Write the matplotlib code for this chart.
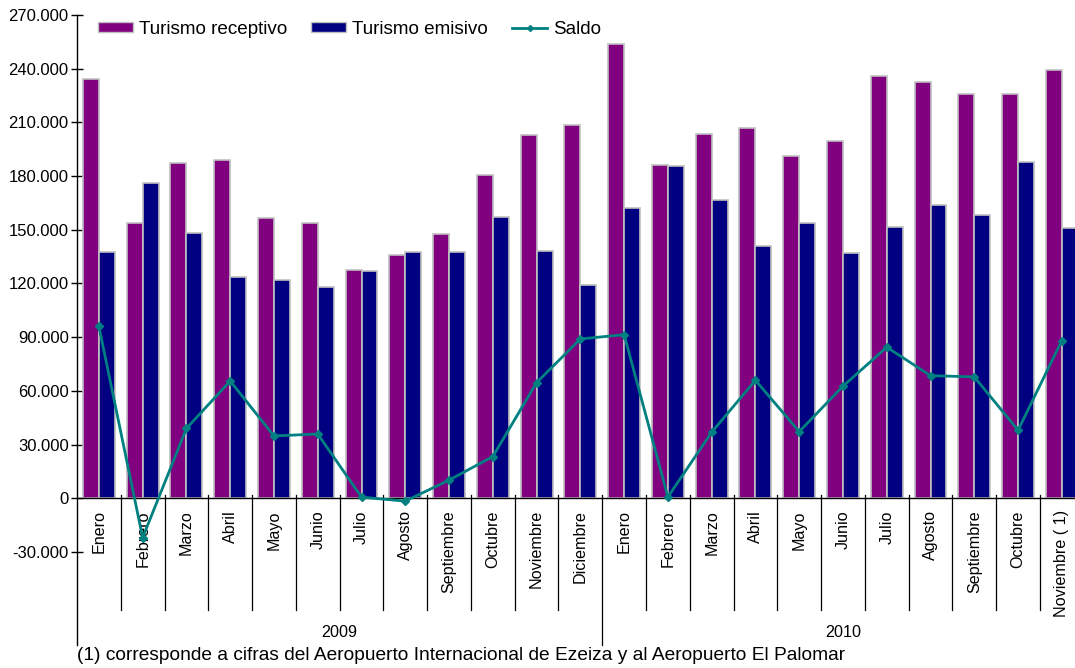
import matplotlib
matplotlib.use('Agg')
import matplotlib.pyplot as plt
from matplotlib.lines import Line2D
from matplotlib.patches import Patch

plt.rcParams['font.family'] = ['Liberation Sans', 'DejaVu Sans']

months = ["Enero", "Febrero", "Marzo", "Abril", "Mayo", "Junio", "Julio", "Agosto",
          "Septiembre", "Octubre", "Noviembre", "Diciembre",
          "Enero", "Febrero", "Marzo", "Abril", "Mayo", "Junio", "Julio", "Agosto",
          "Septiembre", "Octubre", "Noviembre ( 1)"]
years = ["2009", "2010"]
months_per_year = [12, 11]

receptivo = [234300, 153800, 187300, 189000, 156600, 153800, 127400, 135800,
             147500, 180500, 202800, 208400,
             253600, 186200, 203400, 206700, 191200, 199500, 235800, 232600,
             225900, 225900, 239300]
emisivo = [137600, 176000, 148400, 123500, 121800, 117900, 126800, 137400,
           137400, 157200, 138200, 119400,
           162200, 185500, 166500, 140800, 154000, 136900, 151400, 164100,
           158100, 187900, 151200]
saldo = [96000, -22000, 39000, 65500, 34800, 35900, 600, -1600,
         10100, 23300, 64600, 89000,
         91400, 700, 36900, 65900, 37200, 62600, 84400, 68500,
         67800, 38000, 88100]

yticks = list(range(-30000, 270001, 30000))
footnote = "(1) corresponde a cifras del Aeropuerto Internacional de Ezeiza y al Aeropuerto El Palomar"

W, H = 1075, 668
fig = plt.figure(figsize=(W / 100, H / 100), dpi=100)
cat_w = 43.77
n = len(months)
ax = fig.add_axes([77 / W, 1 - 645 / H, n * cat_w / W, (645 - 15) / H])

ymin, ymax = -82000, 270000
ax.set_xlim(-0.5, n - 0.5)
ax.set_ylim(ymin, ymax)

x = list(range(n))
bw = 0.365
c_rec, c_emi, c_sal = '#800080', '#000080', '#008080'
ax.bar([i - bw / 2 for i in x], receptivo, width=bw, color=c_rec,
       edgecolor='#c0c0c0', linewidth=1.2, zorder=2)
ax.bar([i + bw / 2 for i in x], emisivo, width=bw, color=c_emi,
       edgecolor='#c0c0c0', linewidth=1.2, zorder=2)
ax.plot(x, saldo, color=c_sal, linewidth=2.0, marker='D', markersize=4,
        zorder=4, clip_on=False)

# zero line
ax.axhline(0, color='black', linewidth=1.0, zorder=3)

# spines
for s in ['top', 'right', 'bottom']:
    ax.spines[s].set_visible(False)
ax.spines['left'].set_linewidth(1.0)

ax.set_yticks(yticks)
ax.set_yticklabels([f"{v:,.0f}".replace(',', '.') for v in yticks], fontsize=12)
ax.tick_params(axis='y', direction='inout', length=8, width=1.0, pad=2)
ax.set_xticks([])

px = (ymax - ymin) / 630.0
# category separators
for k in range(1, n):
    if k == months_per_year[0]:
        continue
    ax.plot([k - 0.5, k - 0.5], [3 * px, -(610 - 498) * px], color='black',
            linewidth=0.9, clip_on=False, zorder=3)
# year separator
ax.plot([months_per_year[0] - 0.5] * 2, [3 * px, ymin], color='black',
        linewidth=0.9, clip_on=False, zorder=3)

# month labels
for i, m in enumerate(months):
    ax.text(i, -(510 - 498) * px, m, rotation=90, ha='center', va='top',
            fontsize=11.6)

# year labels
start = 0
for y, cnt in zip(years, months_per_year):
    if y == years[-1]:
        centre = start - 0.5 + (n - start) / 2
    else:
        centre = start - 0.5 + cnt / 2
    ax.text(centre, -(632 - 498) * px, y, ha='center', va='center', fontsize=11.6)
    start += cnt

handles = [Patch(facecolor=c_rec, edgecolor='#c0c0c0', linewidth=1.0),
           Patch(facecolor=c_emi, edgecolor='#c0c0c0', linewidth=1.0),
           Line2D([], [], color=c_sal, linewidth=2.0, marker='D', markersize=3)]
leg = fig.legend(handles, ["Turismo receptivo", "Turismo emisivo", "Saldo"],
                 loc='center left', bbox_to_anchor=(98 / W, 1 - 29 / H),
                 ncol=3, frameon=False, fontsize=13.6, borderpad=0,
                 handlelength=1.85, handleheight=0.45, handletextpad=0.3,
                 columnspacing=1.3, borderaxespad=0)

fig.text(77 / W, 1 - 655 / H, footnote, ha='left', va='center', fontsize=13.8)

fig.savefig('out.png', dpi=100)
